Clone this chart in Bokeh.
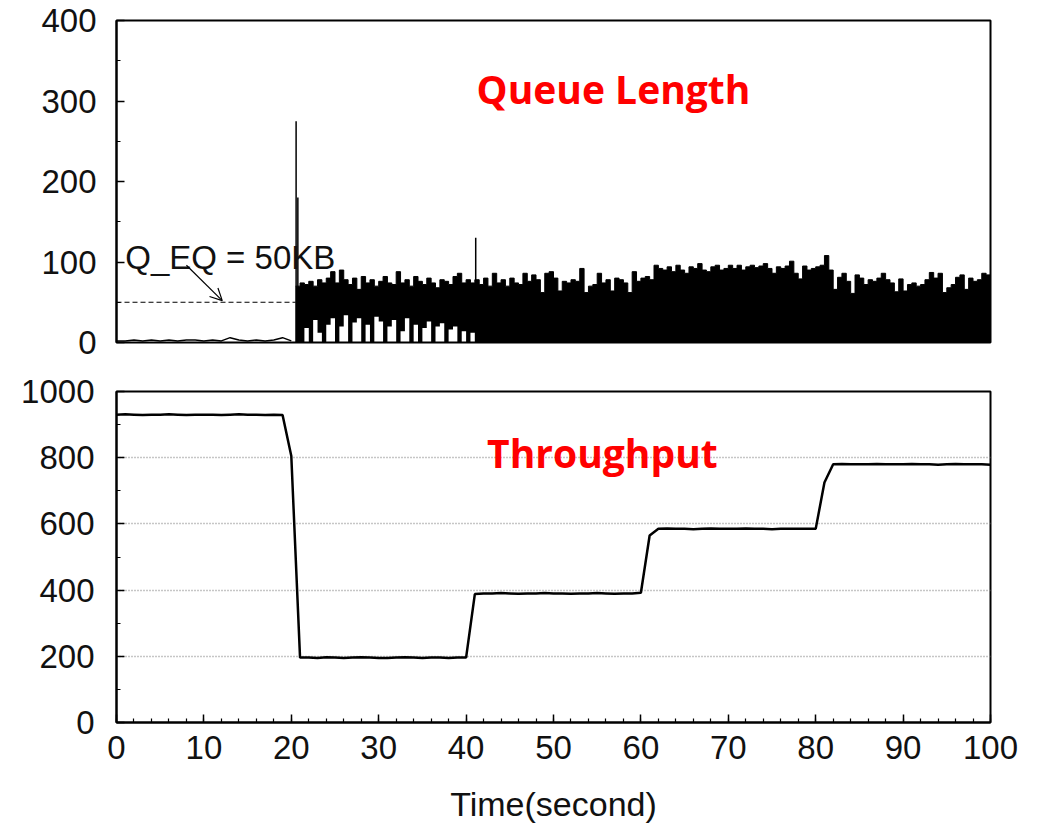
import numpy as np
from bokeh.plotting import figure
from bokeh.models import Range1d, FixedTicker, Label, Arrow, OpenHead
from bokeh.layouts import column
from bokeh.embed import file_html
from bokeh.resources import INLINE

# ---------------- data ----------------
# Queue length (KB) before congestion, 1 s grid
pre_t = list(range(0, 21))
pre_q = [2, 2, 3, 2, 3, 2, 3, 2, 3, 3, 2, 3, 2, 6, 3, 2, 3, 2, 3, 6, 2]

# Queue length after t=20.5 s on a 0.5 s grid: upper / lower envelope
q_t = list(np.arange(20.5, 100.01, 0.5))
q_high = (
    [70, 74, 72, 76, 70, 78, 74, 80, 88, 74, 90, 78, 72, 80, 66, 82, 74, 78, 70, 76]     # 20.5-30
    + [82, 74, 72, 88, 74, 78, 70, 82, 76, 72, 80, 74, 68, 78, 76, 72, 82, 86, 74, 78]   # 30.5-40
    + [74, 78, 72, 80, 70, 86, 74, 78, 70, 80, 74, 72, 86, 76, 84, 78, 62, 86, 88, 80]   # 40.5-50
    + [64, 76, 74, 78, 76, 92, 62, 70, 72, 86, 74, 78, 64, 80, 78, 74, 62, 88, 76, 80]   # 50.5-60
    + [82, 78, 96, 92, 90, 94, 88, 96, 90, 86, 94, 92, 98, 90, 88, 94, 96, 90, 92, 96]   # 60.5-70
    + [92, 96, 90, 94, 96, 93, 95, 98, 92, 86, 94, 92, 95, 101, 86, 79, 95, 90, 92, 94]  # 70.5-80
    + [96, 108, 90, 66, 81, 86, 76, 61, 84, 80, 72, 78, 76, 80, 86, 78, 74, 63, 79, 64]  # 80.5-90
    + [72, 74, 70, 72, 78, 87, 80, 86, 62, 68, 72, 81, 84, 66, 80, 76, 78, 86, 84, 50]   # 90.5-100
)
q_low = (
    [0, 0, 18, 0, 28, 12, 0, 22, 30, 0, 20, 34, 0, 25, 30, 0, 22, 0, 32, 26]
    + [0, 20, 28, 0, 14, 30, 0, 22, 0, 18, 26, 0, 20, 24, 0, 16, 20, 0, 14, 0]
    + [12] + [0] * 119
)

# isolated spikes of the queue
spike_t = [20.55, 20.75, 41.1]
spike_q = [275, 180, 130]

# equilibrium queue reference
qeq_x = [0, 20.5]
qeq_y = [50, 50]
qeq_label = "Q_EQ = 50KB"
qeq_label_pos = (1.0, 105)
arrow_from = (8.0, 96)
arrow_to = (12.1, 52)

# Throughput (Mbps), 1 s grid
tp_t = list(range(0, 101))
tp = (
    [930, 931, 930, 929, 930, 930, 931, 930, 929, 930, 930, 930, 929, 930, 931, 930, 930, 929, 930, 929]  # 0-19
    + [805, 196, 196, 195, 197, 196, 195, 196, 197, 196, 195, 195, 196, 197, 196, 195, 196, 196, 195, 196]  # 20-39
    + [196, 388, 390, 390, 391, 390, 389, 390, 390, 391, 390, 390, 389, 390, 390, 391, 390, 389, 390, 390]  # 40-59
    + [392, 565, 585, 586, 585, 585, 584, 585, 586, 585, 585, 585, 586, 585, 585, 584, 585, 585, 585, 585]  # 60-79
    + [585, 725, 780, 781, 780, 780, 780, 781, 780, 780, 780, 781, 780, 780, 779, 780, 781, 780, 780, 780]  # 80-99
    + [779]
)

x_major = list(range(0, 101, 10))
x_minor = list(range(0, 101, 2))
q_major = [0, 100, 200, 300, 400]
q_minor = [50, 150, 250, 350]
tp_major = [0, 200, 400, 600, 800, 1000]
tp_minor = [100, 300, 500, 700, 900]
tp_grid = [200, 400, 600, 800]

TICK_FONT = "Liberation Sans"
TICK_SIZE = "33px"


def style_axis(ax, standoff):
    ax.axis_line_color = "black"
    ax.axis_line_width = 2
    ax.major_tick_in = 8
    ax.major_tick_out = 0
    ax.minor_tick_in = 4
    ax.minor_tick_out = 0
    ax.major_tick_line_color = "black"
    ax.minor_tick_line_color = "black"
    ax.major_tick_line_width = 1.5
    ax.minor_tick_line_width = 1.2
    ax.major_label_text_font = TICK_FONT
    ax.major_label_text_font_size = TICK_SIZE
    ax.major_label_text_color = "#111111"
    ax.major_label_standoff = standoff


# ---------------- top: queue length ----------------
W = 1028
p1 = figure(width=W, height=368, x_range=Range1d(0, 100), y_range=Range1d(0, 400),
            output_backend="svg", toolbar_location=None,
            min_border_left=116, min_border_right=38, min_border_top=20, min_border_bottom=26)
p1.xaxis.visible = False
p1.xgrid.visible = False
p1.ygrid.visible = False
p1.yaxis.ticker = FixedTicker(ticks=q_major, minor_ticks=q_minor)
style_axis(p1.yaxis[0], 20)
p1.outline_line_color = "black"
p1.outline_line_width = 2
p1.outline_line_alpha = 1

p1.line(pre_t, pre_q, line_color="black", line_width=1.5)
p1.line(qeq_x, qeq_y, line_color="black", line_width=1.2, line_dash="5 3")
p1.varea_step(x=q_t, y1=q_low, y2=q_high, step_mode="after", fill_color="black")
p1.step(q_t, q_high, mode="after", line_color="black", line_width=1)
p1.segment(x0=spike_t, y0=[0] * len(spike_t), x1=spike_t, y1=spike_q,
           line_color="black", line_width=1.5)

p1.add_layout(Label(x=qeq_label_pos[0], y=qeq_label_pos[1], text=qeq_label,
                    text_font=TICK_FONT, text_font_size="33px", text_color="#111111",
                    text_baseline="alphabetic"))
p1.add_layout(Arrow(end=OpenHead(size=12, line_width=1.2, line_color="black"),
                    x_start=arrow_from[0], y_start=arrow_from[1],
                    x_end=arrow_to[0], y_end=arrow_to[1],
                    line_color="black", line_width=1.2))
p1.add_layout(Label(x=41.2, y=315, text="Queue Length", text_font="Open Sans",
                    text_font_style="bold", text_font_size="39px", text_color="#ff0000",
                    text_baseline="middle"))

# ---------------- bottom: throughput ----------------
p2 = figure(width=W, height=461, x_range=Range1d(0, 100), y_range=Range1d(0, 1000),
            output_backend="svg", toolbar_location=None,
            min_border_left=112, min_border_right=38, min_border_top=23, min_border_bottom=107)
p2.xaxis.ticker = FixedTicker(ticks=x_major, minor_ticks=x_minor)
p2.yaxis.ticker = FixedTicker(ticks=tp_major, minor_ticks=tp_minor)
style_axis(p2.xaxis[0], 13)
style_axis(p2.yaxis[0], 22)
p2.xaxis.axis_label = "Time(second)"
p2.xaxis.axis_label_text_font = TICK_FONT
p2.xaxis.axis_label_text_font_size = "34px"
p2.xaxis.axis_label_text_font_style = "normal"
p2.xaxis.axis_label_text_color = "#111111"
p2.xaxis.axis_label_standoff = 23
p2.xgrid.visible = False
p2.ygrid.ticker = FixedTicker(ticks=tp_grid)
p2.ygrid.grid_line_color = "#8c8c8c"
p2.ygrid.grid_line_dash = "1 2"
p2.ygrid.grid_line_width = 1.5
p2.outline_line_color = "black"
p2.outline_line_width = 2
p2.outline_line_alpha = 1

p2.line(tp_t, tp, line_color="black", line_width=2.5)
p2.add_layout(Label(x=42.4, y=816, text="Throughput", text_font="Open Sans",
                    text_font_style="bold", text_font_size="39px", text_color="#ff0000",
                    text_baseline="middle"))

layout = column(p1, p2, spacing=0)
open("out.html", "w").write(file_html(layout, INLINE))
